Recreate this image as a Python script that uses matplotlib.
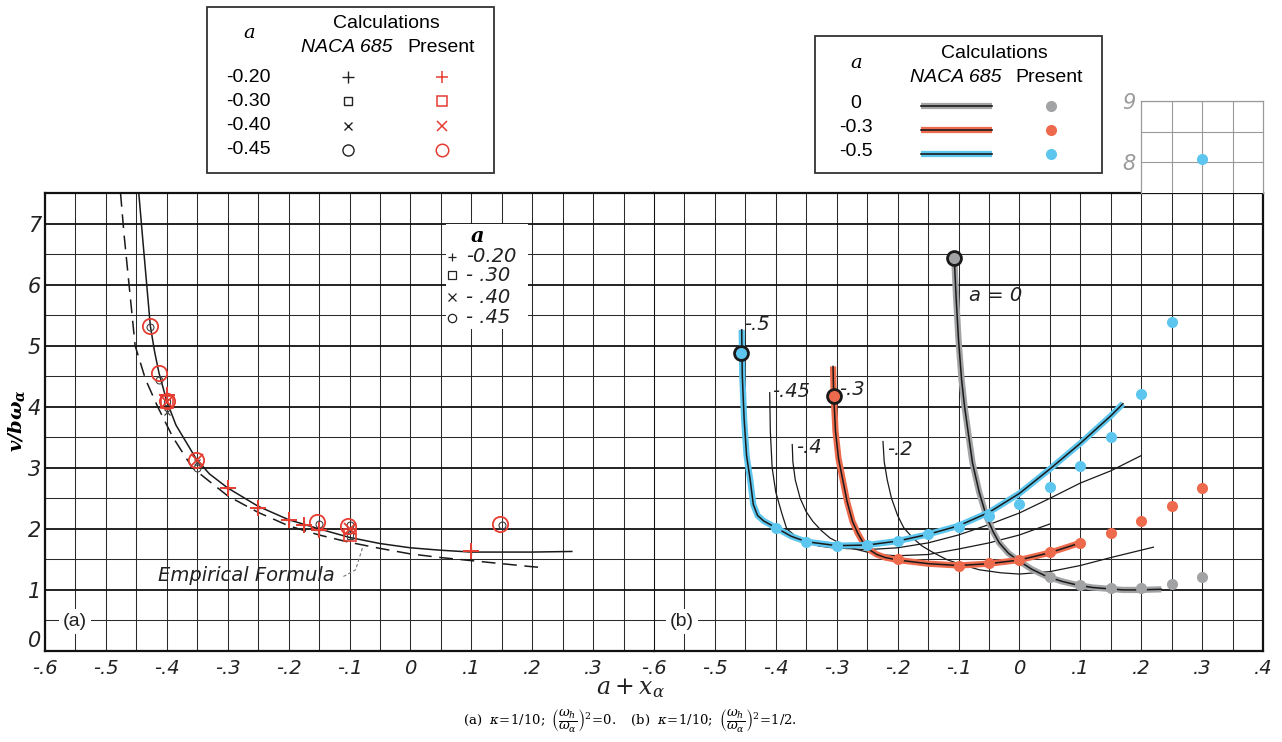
import matplotlib.pyplot as plt
import matplotlib as mpl

mpl.rcParams['mathtext.fontset'] = 'dejavuserif'

# ---------------- panel (a): kappa = 1/10, (wh/wa)^2 = 0 ----------------
a_theory_x = [-0.446, -0.44, -0.433, -0.427, -0.42, -0.413, -0.40, -0.385, -0.352, -0.33, -0.30,
              -0.25, -0.20, -0.15, -0.10, -0.05, 0.0, 0.05, 0.10, 0.20, 0.265]
a_theory_y = [7.5, 6.8, 6.0, 5.32, 4.9, 4.56, 4.09, 3.7, 3.15, 2.9, 2.67,
              2.37, 2.15, 2.0, 1.86, 1.76, 1.69, 1.65, 1.62, 1.62, 1.63]
a_empirical_x = [-0.476, -0.47, -0.462, -0.452, -0.435, -0.415, -0.39, -0.358, -0.30, -0.25,
                 -0.20, -0.15, -0.10, -0.05, 0.0, 0.05, 0.10, 0.15, 0.20, 0.213]
a_empirical_y = [7.5, 6.8, 6.0, 5.0, 4.45, 4.0, 3.5, 3.0, 2.54, 2.27,
                 2.05, 1.9, 1.78, 1.68, 1.59, 1.53, 1.48, 1.43, 1.38, 1.37]

# NACA 685 calculations (black) and present calculations (red), by a
naca_plus_x = [-0.40, -0.30, -0.25, -0.20, -0.175, -0.15, 0.10]
naca_plus_y = [4.2, 2.67, 2.34, 2.15, 2.07, 1.98, 1.64]
naca_square_x = [-0.40, -0.10]
naca_square_y = [4.08, 1.88]
naca_cross_x = [-0.40, -0.35, -0.10]
naca_cross_y = [3.91, 3.10, 1.98]
naca_circle_x = [-0.427, -0.412, -0.35, -0.15, -0.10, 0.15]
naca_circle_y = [5.30, 4.43, 3.0, 2.08, 2.06, 2.07]

pres_plus_x = [-0.40, -0.30, -0.25, -0.20, -0.175, -0.15, 0.10]
pres_plus_y = [4.2, 2.67, 2.34, 2.15, 2.07, 1.98, 1.64]
pres_square_x = [-0.40, -0.10]
pres_square_y = [4.08, 1.90]
pres_cross_x = [-0.40, -0.35, -0.10]
pres_cross_y = [4.08, 3.12, 2.0]
pres_circle_x = [-0.427, -0.413, -0.40, -0.352, -0.153, -0.102, 0.147]
pres_circle_y = [5.32, 4.56, 4.09, 3.13, 2.11, 2.04, 2.08]

# ---------------- panel (b): kappa = 1/10, (wh/wa)^2 = 1/2 ----------------
# NACA 685 curves
b_a0_x = [-0.107, -0.104, -0.10, -0.095, -0.09, -0.083, -0.077, -0.066, -0.054, -0.043, -0.033,
          -0.018, -0.003, 0.02, 0.045, 0.07, 0.095, 0.12, 0.145, 0.17, 0.195, 0.233]
b_a0_y = [6.44, 5.8, 5.1, 4.45, 4.0, 3.5, 3.08, 2.6, 2.2, 1.95, 1.77,
          1.6, 1.49, 1.34, 1.22, 1.14, 1.08, 1.04, 1.02, 1.0, 1.0, 1.01]
b_a03_x = [-0.306, -0.305, -0.302, -0.297, -0.29, -0.283, -0.274, -0.265, -0.257, -0.245, -0.234,
           -0.22, -0.20, -0.15, -0.10, -0.05, 0.0, 0.05, 0.10]
b_a03_y = [4.66, 4.2, 3.6, 3.15, 2.8, 2.45, 2.12, 1.92, 1.78, 1.65, 1.58,
           1.53, 1.49, 1.43, 1.40, 1.43, 1.49, 1.61, 1.77]
b_a05_x = [-0.456, -0.455, -0.452, -0.448, -0.442, -0.437, -0.43, -0.42, -0.40, -0.375, -0.35,
           -0.30, -0.25, -0.20, -0.15, -0.10, -0.05, 0.0, 0.05, 0.10, 0.15, 0.17]
b_a05_y = [5.26, 4.5, 3.8, 3.2, 2.8, 2.4, 2.22, 2.13, 2.02, 1.88, 1.79,
           1.725, 1.735, 1.8, 1.91, 2.05, 2.27, 2.58, 2.98, 3.4, 3.85, 4.05]
b_a045_x = [-0.41, -0.409, -0.406, -0.40, -0.39, -0.382, -0.365, -0.349, -0.33, -0.307, -0.25,
            -0.20, -0.15, -0.10, -0.05, 0.0, 0.05, 0.10, 0.15, 0.20]
b_a045_y = [4.23, 3.6, 3.0, 2.6, 2.25, 2.0, 1.86, 1.78, 1.72, 1.69, 1.66,
            1.69, 1.77, 1.9, 2.07, 2.26, 2.5, 2.75, 2.95, 3.2]
b_a04_x = [-0.373, -0.372, -0.368, -0.36, -0.35, -0.339, -0.325, -0.311, -0.29, -0.274, -0.25,
           -0.218, -0.20, -0.15, -0.10, -0.05, 0.0, 0.05]
b_a04_y = [3.38, 3.1, 2.8, 2.5, 2.28, 2.12, 1.97, 1.85, 1.74, 1.68, 1.62,
           1.57, 1.56, 1.58, 1.67, 1.77, 1.9, 2.08]
b_a02_x = [-0.224, -0.222, -0.217, -0.21, -0.20, -0.19, -0.175, -0.16, -0.143, -0.12, -0.10,
           -0.066, -0.03, 0.0, 0.05, 0.10, 0.15, 0.22]
b_a02_y = [3.43, 3.1, 2.8, 2.5, 2.22, 2.02, 1.85, 1.72, 1.62, 1.5, 1.43,
           1.33, 1.28, 1.26, 1.3, 1.4, 1.53, 1.7]

# present calculations (dots)
b_gray_x = [0.05, 0.10, 0.15, 0.20, 0.25, 0.30]
b_gray_y = [1.21, 1.08, 1.03, 1.03, 1.10, 1.21]
b_orange_x = [-0.20, -0.10, -0.05, 0.0, 0.05, 0.10, 0.15, 0.20, 0.25, 0.30]
b_orange_y = [1.51, 1.40, 1.44, 1.49, 1.62, 1.77, 1.93, 2.13, 2.38, 2.67]
b_blue_x = [-0.40, -0.35, -0.30, -0.25, -0.20, -0.15, -0.10, -0.05, 0.0, 0.05, 0.10, 0.15, 0.20, 0.25, 0.30]
b_blue_y = [2.02, 1.78, 1.72, 1.74, 1.80, 1.91, 2.03, 2.21, 2.41, 2.69, 3.03, 3.51, 4.21, 5.39, 8.05]
# start points of NACA curves (outlined)
b_start_x = [-0.107, -0.305, -0.457]
b_start_y = [6.44, 4.18, 4.88]

GRAY = '#a2a3a5'
ORANGE = '#ee6a4c'
BLUE = '#5dc6ee'
RED = '#e63c30'
INK = '#1a1a1a'

TICKFONT = dict(fontfamily='DejaVu Sans', fontstyle='italic', fontsize=14, color='#222222')
SANS = 'Liberation Sans'

W, H = 1282, 742
fig = plt.figure(figsize=(W / 100, H / 100), dpi=100)
fig.patch.set_facecolor('white')

ax_a = fig.add_axes([45 / W, 91 / H, 609 / W, 458 / H])
ax_b = fig.add_axes([654 / W, 91 / H, 609 / W, 458 / H])

xt_minor = [-0.6 + 0.05 * i for i in range(21)]
for ax in (ax_a, ax_b):
    ax.set_xlim(-0.6, 0.4)
    ax.set_ylim(0, 7.5)
    ax.set_xticks(xt_minor, minor=True)
    ax.set_yticks([0.5 + i for i in range(7)], minor=True)
    ax.set_yticks(range(8))
    ax.xaxis.grid(True, which='both', color='#2a2a2a', lw=0.75)
    ax.yaxis.grid(True, which='minor', color='#2a2a2a', lw=0.75)
    ax.yaxis.grid(True, which='major', color='#111111', lw=1.3)
    ax.tick_params(which='both', length=0)
    ax.set_axisbelow(True)
    for s in ax.spines.values():
        s.set_color('#111111')
        s.set_linewidth(1.6)

ax_a.spines['right'].set_visible(False)
ax_b.spines['left'].set_linewidth(0.75)

xt_a = [-0.6, -0.5, -0.4, -0.3, -0.2, -0.1, 0.0, 0.1, 0.2, 0.3]
xt_b = xt_a + [0.4]


def fmt(v):
    if abs(v) < 1e-9:
        return '0'
    return ('-' if v < 0 else '') + ('%.1f' % abs(v))[1:]


ax_a.set_xticks(xt_a)
ax_a.set_xticklabels([fmt(v) for v in xt_a], **TICKFONT)
ax_b.set_xticks(xt_b)
ax_b.set_xticklabels([fmt(v) for v in xt_b], **TICKFONT)
ax_a.set_yticklabels([str(i) for i in range(8)], fontfamily='DejaVu Sans', fontstyle='italic',
                     fontsize=15, color='#222222')
ax_b.set_yticklabels([])
ax_a.tick_params(axis='x', pad=6)
ax_b.tick_params(axis='x', pad=6)
ax_a.tick_params(axis='y', pad=3)
# the zero of the y axis sits just above the x axis line, as in the original
ax_a.get_yticklabels()[0].set_va('bottom')

# ---- panel (a) drawing
ax_a.plot(a_theory_x, a_theory_y, color=INK, lw=1.1)
ax_a.plot(a_empirical_x, a_empirical_y, color=INK, lw=1.1, dashes=(9, 5))

ax_a.plot(naca_plus_x, naca_plus_y, '+', color='#444444', ms=6, mew=0.9)
ax_a.plot(naca_square_x, naca_square_y, 's', color='#444444', mfc='none', ms=5, mew=0.8)
ax_a.plot(naca_cross_x, naca_cross_y, 'x', color='#444444', ms=5, mew=0.9)
ax_a.plot(naca_circle_x, naca_circle_y, 'o', color='#444444', mfc='none', ms=5, mew=0.8)

ax_a.plot(pres_plus_x, pres_plus_y, '+', color=RED, ms=11, mew=1.4)
ax_a.plot(pres_square_x, pres_square_y, 's', color=RED, mfc='none', ms=8, mew=1.2)
ax_a.plot(pres_cross_x, pres_cross_y, 'x', color=RED, ms=8, mew=1.3)
ax_a.plot(pres_circle_x, pres_circle_y, 'o', color=RED, mfc='none', ms=11, mew=1.3)

ax_a.text(-0.27, 1.24, 'Empirical Formula', ha='center', va='center', fontfamily='DejaVu Sans',
          fontstyle='italic', fontsize=14, color='#222222')
ax_a.plot([-0.11, -0.09, -0.078], [1.22, 1.33, 1.71], color='#777777', lw=0.8, dashes=(3, 2))
ax_a.text(-0.551, 0.48, '(a)', ha='center', va='center', fontfamily=SANS, fontsize=14,
          color='#222222', bbox=dict(fc='white', ec='none', pad=3))

# inline key of panel (a)
ax_a.add_patch(plt.Rectangle((0.058, 5.28), 0.135, 1.72, fc='white', ec='none', zorder=2))
key_rows_y = [6.46, 6.15, 5.79, 5.46]
key_labels = ['-0.20', '- .30', '- .40', '- .45']
key_marks = ['+', 's', 'x', 'o']
ax_a.text(0.11, 6.80, 'a', fontfamily='DejaVu Serif', fontstyle='italic', fontweight='bold',
          fontsize=15, ha='center', va='center', zorder=3)
for yk, lab, mk in zip(key_rows_y, key_labels, key_marks):
    ax_a.plot([0.068], [yk], mk, color='#222222', mfc='none', ms=6, mew=0.9, zorder=3)
    ax_a.text(0.092, yk, lab, fontfamily='DejaVu Sans', fontstyle='italic', fontsize=14,
              ha='left', va='center', color='#222222', zorder=3)

# ---- panel (b) drawing
for xs, ys in [(b_a045_x, b_a045_y), (b_a04_x, b_a04_y), (b_a02_x, b_a02_y)]:
    ax_b.plot(xs, ys, color=INK, lw=0.9)
for xs, ys, col in [(b_a0_x, b_a0_y, GRAY), (b_a03_x, b_a03_y, ORANGE), (b_a05_x, b_a05_y, BLUE)]:
    ax_b.plot(xs, ys, color=col, lw=4.5, solid_capstyle='butt')
    ax_b.plot(xs, ys, color=INK, lw=1.1)

ax_b.plot(b_gray_x, b_gray_y, 'o', color=GRAY, ms=8, mec='none', zorder=4)
ax_b.plot(b_orange_x, b_orange_y, 'o', color=ORANGE, ms=8, mec='none', zorder=4)
ax_b.plot(b_blue_x, b_blue_y, 'o', color=BLUE, ms=8, mec='none', zorder=4)
for xs, ys, col in zip(b_start_x, b_start_y, [GRAY, ORANGE, BLUE]):
    ax_b.plot([xs], [ys], 'o', mfc=col, mec=INK, ms=10, mew=2, zorder=5)

lab_kw = dict(fontfamily='DejaVu Sans', fontstyle='italic', fontsize=14, color='#222222',
              ha='left', va='center')
ax_b.text(-0.452, 5.35, '-.5', **lab_kw)
ax_b.text(-0.406, 4.25, '-.45', **lab_kw)
ax_b.text(-0.366, 3.34, '-.4', **lab_kw)
ax_b.text(-0.296, 4.28, '-.3', **lab_kw)
ax_b.text(-0.218, 3.30, '-.2', **lab_kw)
ax_b.text(-0.082, 5.82, 'a = 0', **lab_kw)
ax_b.text(-0.554, 0.48, '(b)', ha='center', va='center', fontfamily=SANS, fontsize=14,
          color='#222222', bbox=dict(fc='white', ec='none', pad=3))

# grid extension above panel (b) for the point near 8
axins = ax_b.inset_axes([0.2, 7.5, 0.2, 1.5], transform=ax_b.transData)
axins.set_xlim(0.2, 0.4)
axins.set_ylim(7.5, 9)
axins.set_xticks([0.25, 0.3, 0.35])
axins.set_xticklabels([])
axins.set_yticks([8, 9])
axins.set_yticks([8.5], minor=True)
axins.set_yticklabels(['8', '9'], fontfamily='DejaVu Sans', fontstyle='italic', fontsize=15,
                      color='#9a9a9a')
axins.tick_params(which='both', length=0)
axins.tick_params(axis='y', pad=4)
axins.grid(True, which='both', color='#9a9a9a', lw=0.8)
for k, s in axins.spines.items():
    s.set_color('#9a9a9a')
    s.set_linewidth(0.9)
axins.spines['bottom'].set_visible(False)
axins.plot(b_blue_x, b_blue_y, 'o', color=BLUE, ms=8, mec='none')

# ---- axis titles and caption
fig.text(17 / W, 1 - 420 / H, r'$\mathbfit{v/b\omega_\alpha}$', rotation=90, ha='center',
         va='center', fontsize=14)
fig.text(630 / W, 1 - 688 / H, r'$a + x_\alpha$', ha='center', va='center', fontsize=17,
         color='#222222')
fig.text(630 / W, 1 - 721 / H,
         r'(a)  $\kappa\!=\!1/10;\ \left(\dfrac{\omega_h}{\omega_\alpha}\right)^2\!=\!0.$'
         r'$\quad$(b)  $\kappa\!=\!1/10;\ \left(\dfrac{\omega_h}{\omega_\alpha}\right)^2\!=\!1/2.$',
         ha='center', va='center', fontsize=9.5, fontfamily='DejaVu Serif')

# ---- tabular keys at the top
ax_leg = fig.add_axes([0, 0, 1, 1])
ax_leg.set_xlim(0, W)
ax_leg.set_ylim(H, 0)
ax_leg.axis('off')

ax_leg.add_patch(plt.Rectangle((207, 7), 287, 166, fc='white', ec='#333333', lw=1.3))
ax_leg.text(249, 33, 'a', fontfamily='DejaVu Serif', fontstyle='italic', fontsize=14,
            ha='center', va='center')
ax_leg.text(386, 23, 'Calculations', fontfamily=SANS, fontsize=14, ha='center', va='center')
ax_leg.text(347, 48, 'NACA 685', fontfamily=SANS, fontstyle='italic', fontsize=14,
            ha='center', va='center')
ax_leg.text(441, 48, 'Present', fontfamily=SANS, fontsize=14, ha='center', va='center')
left_rows = ['-0.20', '-0.30', '-0.40', '-0.45']
left_rows_y = [77, 101, 126, 150]
for lab, yy, mk in zip(left_rows, left_rows_y, key_marks):
    ax_leg.text(248, yy, lab, fontfamily=SANS, fontsize=14, ha='center', va='center')
    big = 9 if mk in ('+', 'o') else 7
    ax_leg.plot([348], [yy], mk, color='#222222', mfc='none', ms=big - 1, mew=1.0)
    ax_leg.plot([442], [yy], mk, color=RED, mfc='none', ms=big, mew=1.1)

ax_leg.add_patch(plt.Rectangle((815, 36), 287, 137, fc='white', ec='#333333', lw=1.3))
ax_leg.text(856, 63, 'a', fontfamily='DejaVu Serif', fontstyle='italic', fontsize=14,
            ha='center', va='center')
ax_leg.text(994, 53, 'Calculations', fontfamily=SANS, fontsize=14, ha='center', va='center')
ax_leg.text(956, 77, 'NACA 685', fontfamily=SANS, fontstyle='italic', fontsize=14,
            ha='center', va='center')
ax_leg.text(1049, 77, 'Present', fontfamily=SANS, fontsize=14, ha='center', va='center')
right_rows = ['0', '-0.3', '-0.5']
right_rows_y = [104, 128, 152]
for lab, yy, col in zip(right_rows, right_rows_y, [GRAY, ORANGE, BLUE]):
    ax_leg.text(856, yy, lab, fontfamily=SANS, fontsize=14, ha='center', va='center')
    ax_leg.plot([921, 992], [yy + 2, yy + 2], color=col, lw=4.5, solid_capstyle='butt')
    ax_leg.plot([921, 992], [yy + 2, yy + 2], color=INK, lw=1.2)
    ax_leg.plot([1051], [yy + 2], 'o', color=col, ms=8, mec='none')

fig.savefig('out.png', dpi=100)
